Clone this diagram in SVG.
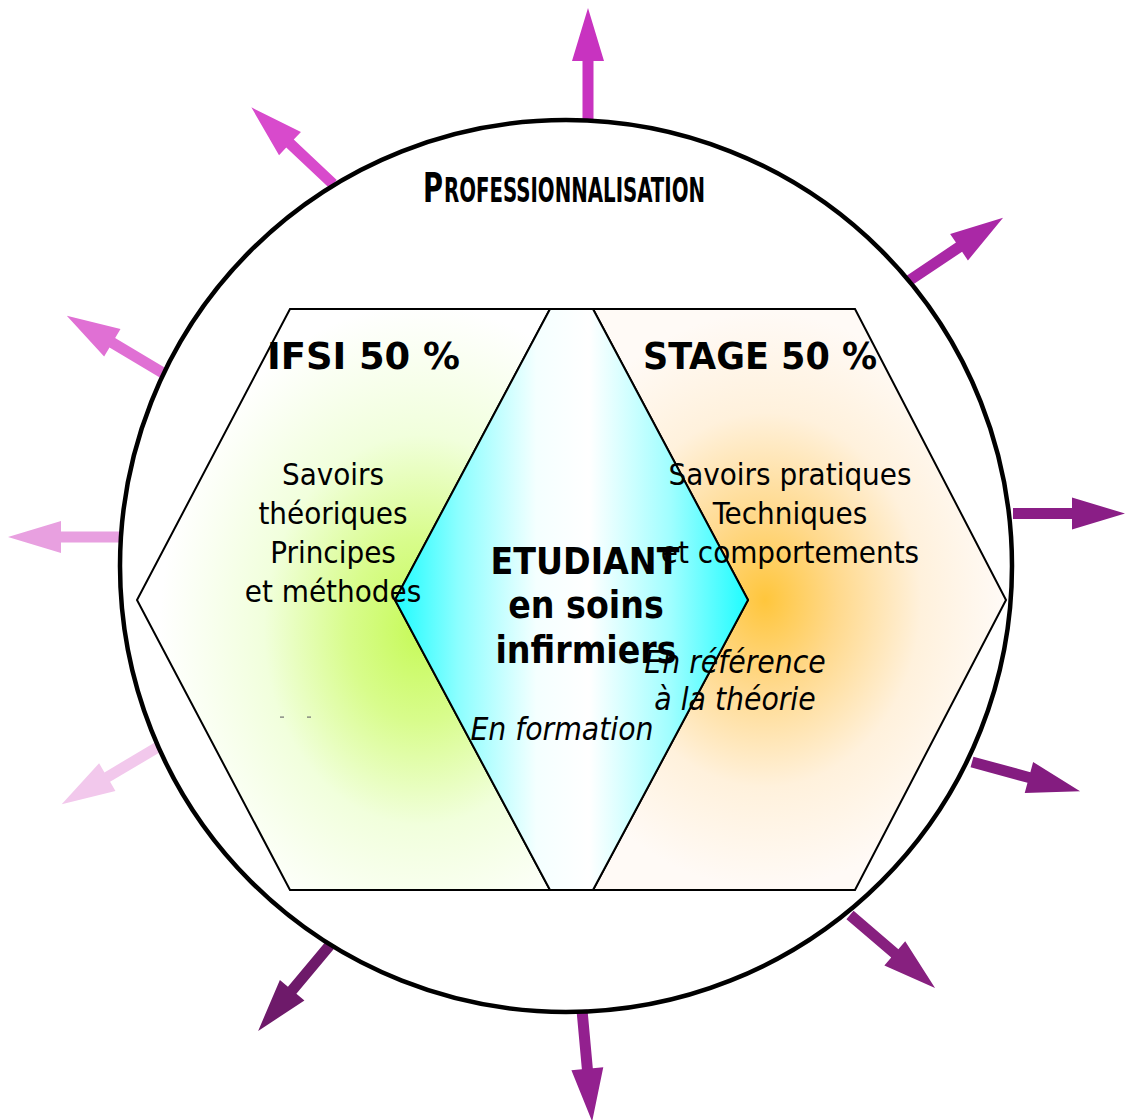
<svg xmlns="http://www.w3.org/2000/svg" width="1126" height="1120" viewBox="0 0 1126 1120">
  <defs>
    <!-- soft green glow of the IFSI block -->
    <radialGradient id="gIfsi" gradientUnits="userSpaceOnUse" cx="420" cy="630" r="260" gradientTransform="translate(420 630) scale(1 1.25) translate(-420 -630)">
      <stop offset="0" stop-color="#c6fa58"/>
      <stop offset="0.28" stop-color="#d8fc8c"/>
      <stop offset="0.6" stop-color="#f1ffdc"/>
      <stop offset="1" stop-color="#ffffff"/>
    </radialGradient>
    <!-- warm orange glow of the STAGE block -->
    <radialGradient id="gStage" gradientUnits="userSpaceOnUse" cx="765" cy="600" r="240" gradientTransform="translate(765 600) scale(1 1.2) translate(-765 -600)">
      <stop offset="0" stop-color="#ffc63c"/>
      <stop offset="0.3" stop-color="#ffd98c"/>
      <stop offset="0.65" stop-color="#fff1dc"/>
      <stop offset="1" stop-color="#fffaf6"/>
    </radialGradient>
    <!-- cyan to white to cyan across the central diamond -->
    <linearGradient id="gEtu" gradientUnits="userSpaceOnUse" x1="395" y1="0" x2="748" y2="0">
      <stop offset="0" stop-color="#1efcff"/>
      <stop offset="0.18" stop-color="#8cfeff"/>
      <stop offset="0.4" stop-color="#f4ffff"/>
      <stop offset="0.55" stop-color="#ffffff"/>
      <stop offset="0.78" stop-color="#a0feff"/>
      <stop offset="1" stop-color="#1efcff"/>
    </linearGradient>
    <path id="arrow" d="M0,-5.5 H59 V-16 L112,0 L59,16 V5.5 H0 Z"/>
    <style>
      .shape { stroke: #000; stroke-width: 2; stroke-linejoin: miter; }
      .body { font-family: 'DejaVu Sans Condensed', 'DejaVu Sans', sans-serif; font-stretch: condensed; font-size: 31px; fill: #000; text-anchor: middle; }
      .title { font-family: 'DejaVu Sans Condensed', 'DejaVu Sans', sans-serif; font-stretch: condensed; font-weight: bold; font-size: 38px; fill: #000; }
      .center { font-family: 'DejaVu Sans Condensed', 'DejaVu Sans', sans-serif; font-stretch: condensed; font-weight: bold; font-size: 37px; fill: #000; text-anchor: middle; }
      .it { font-family: 'DejaVu Sans Condensed', 'DejaVu Sans', sans-serif; font-stretch: condensed; font-style: italic; font-size: 31.5px; fill: #000; text-anchor: middle; }
      .deco { font-family: 'Liberation Sans Narrow', 'DejaVu Sans Condensed', sans-serif; font-stretch: condensed; font-weight: bold; fill: #000; }
    </style>
  </defs>

  <rect width="1126" height="1120" fill="#ffffff"/>

  <!-- outward arrows around the ring -->
  <g id="arrows">
    <use href="#arrow" transform="translate(588 120) rotate(-90)" fill="#c833c0"/>
    <use href="#arrow" transform="translate(333 184) rotate(-136.8)" fill="#d84acc"/>
    <use href="#arrow" transform="translate(163 373) rotate(-149.2)" fill="#e070d4"/>
    <use href="#arrow" transform="translate(120 537) rotate(180)" fill="#e8a0e0"/>
    <use href="#arrow" transform="translate(158 747) rotate(149.3)" fill="#f2c8ec"/>
    <use href="#arrow" transform="translate(330 945) rotate(129.9)" fill="#6e1a6a"/>
    <use href="#arrow" transform="translate(582 1010) rotate(84.8)" fill="#93208f"/>
    <use href="#arrow" transform="translate(850 915) rotate(40.6)" fill="#87207f"/>
    <use href="#arrow" transform="translate(972 762) rotate(15.2)" fill="#841c80"/>
    <use href="#arrow" transform="translate(1013 513.5)" fill="#8a1e86"/>
    <use href="#arrow" transform="translate(910 280) rotate(-33.8)" fill="#aa28a6"/>
  </g>

  <!-- outer ring with its small-caps heading -->
  <g id="professionnalisation">
    <circle cx="566" cy="566" r="446" fill="none" stroke="#000" stroke-width="4.5"/>
    <text class="deco" x="423" y="202" font-size="40" textLength="20" lengthAdjust="spacingAndGlyphs">P</text>
    <text class="deco" x="444" y="202" font-size="33" textLength="261" lengthAdjust="spacingAndGlyphs">ROFESSIONNALISATION</text>
  </g>

  <!-- IFSI block -->
  <g id="ifsi">
    <polygon class="shape" fill="url(#gIfsi)" points="290,309 550,309 395,600 550,890 290,890 137,600"/>
  </g>

  <!-- STAGE block -->
  <g id="stage">
    <polygon class="shape" fill="url(#gStage)" points="593,309 855,309 1006,600 855,890 593,890 748,600"/>
  </g>

  <!-- student diamond -->
  <g id="etudiant">
    <polygon class="shape" fill="url(#gEtu)" points="550,309 593,309 748,600 593,890 550,890 395,600"/>
  </g>

  <!-- labels -->
  <g id="labels">
    <text class="title" x="267" y="369" textLength="193" lengthAdjust="spacingAndGlyphs">IFSI 50 %</text>
    <text class="title" x="643" y="369" textLength="234" lengthAdjust="spacingAndGlyphs">STAGE 50 %</text>

    <text class="body" x="333" y="485">Savoirs</text>
    <text class="body" x="333" y="524">théoriques</text>
    <text class="body" x="333" y="563">Principes</text>
    <text class="body" x="333" y="602">et méthodes</text>
    <rect x="280" y="716.5" width="4" height="1.2" fill="#707070"/>
    <rect x="307" y="716.5" width="4" height="1.2" fill="#707070"/>

    <text class="body" x="790" y="485">Savoirs pratiques</text>
    <text class="body" x="790" y="524">Techniques</text>
    <text class="body" x="790" y="563">et comportements</text>

    <text class="center" x="585" y="574">ETUDIANT</text>
    <text class="center" x="586" y="618">en soins</text>
    <text class="center" x="586" y="663">infirmiers</text>

    <text class="it" x="735" y="673">En référence</text>
    <text class="it" x="735" y="710">à la théorie</text>
    <text class="it" x="562" y="740">En formation</text>
  </g>
</svg>
